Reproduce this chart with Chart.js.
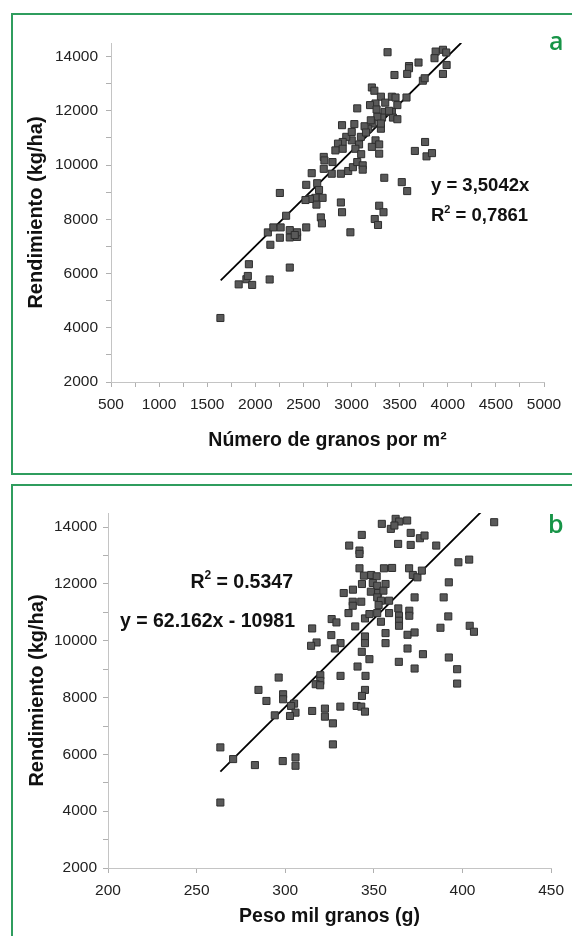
<!DOCTYPE html>
<html>
<head>
<meta charset="utf-8">
<script src="https://cdn.jsdelivr.net/npm/chart.js@4"></script>
<style>
  body { margin: 0; background: #fff; width: 572px; height: 936px; overflow: hidden; position: relative; }
  .box { position: absolute; border: 2px solid #2f9d5e; box-sizing: border-box; }
  canvas { position: absolute; left: 0; }
  .tag { position: absolute; color: #179447; font: 600 25px "Open Sans", sans-serif; }
</style>
</head>
<body>
<div class="box" style="left:11px; top:13px; width:570px; height:462px;"></div>
<div class="box" style="left:11px; top:484px; width:570px; height:460px;"></div>
<canvas id="chartA" width="572" height="460" style="top:14px"></canvas>
<canvas id="chartB" width="572" height="451" style="top:485px"></canvas>
<div class="tag" style="left:549px; top:23px;">a</div>
<div class="tag" style="left:548px; top:506px;">b</div>
<script>
// Panel a: número de granos por m2 vs rendimiento
var granosA = [1637, 1827, 1907, 1922, 1967, 1933, 2149, 2358, 2156, 2255, 2358, 2434, 2130, 2187, 2263,
  2358, 2434, 2410, 2320, 2255, 2529, 2681, 2692, 2988, 2889, 2901, 3287, 3332, 3241, 3275,
  2586, 2529, 2643, 2662, 2699, 2624, 2635, 2567, 2521, 3340, 3522, 3578, 3764, 3658, 3779,
  3836, 2711, 2718, 2802, 2711, 2794, 2889, 2965, 3014, 3059, 3116, 3116, 3249, 3287, 3287,
  3211, 3097, 3078, 3002, 2945, 2908, 2859, 2908, 2832, 3211, 3237, 3305, 3419, 3457, 3571,
  3249, 3192, 3476, 3419, 3343, 3059, 3430, 3476, 3317, 3268, 3218, 3305, 3173, 3135, 3029,
  2901, 3002, 3305, 3374, 3950, 3984, 3874, 3862, 3988, 3950, 3696, 3597, 3597, 3578, 3446,
  3741, 3760, 3040, 3150, 3350, 3100, 3200, 3390, 3260];
var rendA = [4360, 5600, 5790, 5910, 5580, 6343, 5780, 6220, 7060, 7320, 7330, 7350, 7516, 7700, 7700,
  7600, 7520, 7420, 8130, 8970, 7700, 8070, 7850, 7520, 8620, 8260, 8500, 8260, 8010, 7790,
  9700, 9270, 9330, 9080, 8790, 8790, 8540, 8750, 8710, 9530, 9370, 9040, 10850, 10520, 10320,
  10440, 10300, 10170, 10110, 9860, 9680, 9680, 9780, 9920, 10110, 9990, 9830, 10910, 10760, 10420,
  10670, 11040, 10760, 10910, 11040, 10850, 10790, 10600, 10540, 12860, 12740, 12520, 12520, 12490, 12490,
  12270, 12210, 12210, 11960, 11960, 12090, 11750, 11690, 11750, 11780, 11530, 11340, 11340, 11430, 11510,
  11470, 11220, 11530, 14160, 14250, 14150, 14185, 13940, 13690, 13360, 13780, 13650, 13570, 13360, 13320,
  13110, 13200, 10600, 11200, 12300, 10400, 11650, 12000, 12050];
var pendienteA = 3.5042;
var rangoTrendA = [1640, 4140];

// Panel b: peso mil granos vs rendimiento
var pesoB = [417.9, 354.5, 359.6, 362.3, 364.3, 368.8, 361.6, 343.2, 336.1, 341.9, 341.9, 363.7, 370.8, 370.8, 376.0,
  378.6, 385.2, 403.8, 397.7, 341.9, 344.4, 348.5, 351.6, 355.7, 360.3, 369.9, 372.0, 374.6, 377.1, 392.3,
  343.3, 349.4, 351.9, 356.6, 348.3, 352.4, 355.4, 338.2, 389.4, 373.0, 333.0, 338.1, 338.1, 342.9, 351.9,
  354.0, 358.6, 352.7, 351.9, 358.6, 363.8, 364.2, 364.2, 364.2, 370.0, 370.0, 335.7, 326.2, 328.9, 345.0,
  347.5, 354.0, 392.0, 387.6, 404.1, 406.5, 315.2, 339.5, 356.6, 369.0, 373.0, 326.0, 331.2, 328.0, 345.0,
  345.0, 356.6, 317.7, 314.6, 343.2, 369.0, 377.7, 392.3, 347.5, 364.1, 340.8, 373.0, 397.0, 397.0, 296.3,
  331.2, 345.3, 319.8, 319.8, 317.2, 319.7, 345.0, 343.3, 284.9, 289.4, 298.8, 298.8, 305.0, 303.3, 305.8,
  294.1, 302.7, 315.2, 322.4, 322.4, 326.9, 326.9, 331.1, 340.3, 342.9, 345.0, 263.4, 270.6, 282.9, 298.6,
  305.8, 305.8, 263.4];
var rendB = [14176, 14118, 13941, 14294, 14200, 14235, 14059, 13729, 13353, 13177, 13059, 13412, 13800, 13376, 13612,
  13706, 13353, 12859, 12765, 12553, 12294, 12318, 12271, 12553, 12565, 12553, 12318, 12235, 12471, 12059,
  12000, 12035, 11941, 12000, 11729, 11682, 11765, 11800, 11529, 11529, 11682, 11376, 11235, 11376, 11529,
  11412, 11412, 11259, 10976, 10976, 11141, 10882, 10706, 10529, 11059, 10882, 10976, 10765, 10647, 10788,
  10941, 10671, 10859, 10459, 10529, 10318, 10435, 10506, 10271, 10212, 10294, 10200, 9918, 9729, 10153,
  9918, 9918, 9941, 9824, 9612, 9729, 9529, 9412, 9353, 9259, 9094, 9024, 9000, 8494, 8706,
  8765, 8765, 8788, 8588, 8471, 8435, 8271, 8059, 8271, 7882, 8118, 7941, 7788, 7706, 7470,
  7376, 7353, 7529, 7612, 7329, 7094, 6353, 7682, 7706, 7682, 7506, 6247, 5835, 5624, 5765,
  5894, 5600, 4306];
var pendienteB = 62.162;
var interceptoB = -10981;

var fuente = '"Liberation Sans", Arial, sans-serif';

function puntos(xs, ys) {
    return xs.map(function (x, i) { return { x: x, y: ys[i] }; });
}

function lineaTendencia(xs, m, b) {
    return xs.map(function (x) { return { x: x, y: m * x + b }; });
}

// texto de la ecuación, con superíndice
var ecuaciones = {
    id: 'ecuaciones',
    afterDraw: function (chart, args, opts) {
        var ctx = chart.ctx;
        ctx.save();
        ctx.fillStyle = '#111';
        ctx.textBaseline = 'alphabetic';
        opts.lineas.forEach(function (l) {
            var partes = l.partes;
            var big = 'bold ' + l.size + 'px ' + fuente, small = 'bold ' + Math.round(l.size * 0.62) + 'px ' + fuente;
            var ancho = 0;
            partes.forEach(function (p) { ctx.font = p.sup ? small : big; ancho += ctx.measureText(p.t).width; });
            var x = l.align === 'right' ? l.x - ancho : l.x;
            partes.forEach(function (p) {
                ctx.font = p.sup ? small : big;
                ctx.textAlign = 'left';
                ctx.fillText(p.t, x, p.sup ? l.y - l.size * 0.45 : l.y);
                x += ctx.measureText(p.t).width;
            });
        });
        ctx.restore();
    }
};

function opciones(cfg) {
    return {
        responsive: false,
        animation: false,
        devicePixelRatio: 1,
        layout: { padding: cfg.padding },
        plugins: {
            legend: { display: false },
            tooltip: { enabled: false },
            ecuaciones: { lineas: cfg.lineas }
        },
        scales: {
            x: {
                type: 'linear',
                min: cfg.xmin, max: cfg.xmax,
                afterFit: function (s) { s.height = cfg.xAlto; },
                afterBuildTicks: function (s) {
                    s.ticks = [];
                    for (var v = cfg.xmin; v <= cfg.xmax; v += cfg.xPaso) s.ticks.push({ value: v });
                },
                border: { color: '#c4c4c4', width: 1 },
                grid: { drawOnChartArea: false, color: '#b0b0b0', tickLength: 5 },
                ticks: {
                    autoSkip: false, maxRotation: 0, padding: 8, color: '#222',
                    font: { family: fuente, size: 15.5 },
                    callback: function (v) { return v % cfg.xEtiqueta === 0 ? v : ''; }
                },
                title: {
                    display: true, text: cfg.xTitulo, color: '#111',
                    font: { family: fuente, size: 19.5, weight: 'bold' },
                    padding: { top: 0, bottom: cfg.xTituloPad }
                }
            },
            y: {
                type: 'linear',
                min: 2000, max: 14500,
                afterFit: function (s) { s.width = cfg.yAncho; },
                afterBuildTicks: function (s) {
                    s.ticks = [];
                    for (var v = 2000; v <= 14000; v += 1000) s.ticks.push({ value: v });
                },
                border: { color: '#c4c4c4', width: 1 },
                grid: { drawOnChartArea: false, color: '#b0b0b0', tickLength: 5 },
                ticks: {
                    autoSkip: false, padding: cfg.yPad, color: '#222',
                    font: { family: fuente, size: 15.5 },
                    callback: function (v) { return v % 2000 === 0 ? v : ''; }
                },
                title: {
                    display: true, text: 'Rendimiento (kg/ha)', color: '#111',
                    font: { family: fuente, size: 20, weight: 'bold' },
                    padding: { top: cfg.yTituloPad, bottom: 0 }
                }
            }
        }
    };
}

function datasets(pts, trend) {
    return [
        {
            type: 'scatter', data: pts,
            pointStyle: 'rect', pointRadius: 5,
            backgroundColor: '#595959', borderColor: '#2e2e2e', borderWidth: 1
        },
        {
            type: 'line', data: trend,
            borderColor: '#000', borderWidth: 1.8,
            pointRadius: 0, fill: false
        }
    ];
}

new Chart(document.getElementById('chartA'), {
    type: 'scatter',
    data: { datasets: datasets(puntos(granosA, rendA), lineaTendencia(rangoTrendA, pendienteA, 0)) },
    options: opciones({
        padding: { top: 29, right: 28, left: 0, bottom: 0 },
        xmin: 500, xmax: 5000, xPaso: 250, xEtiqueta: 500, xAlto: 92,
        xTitulo: 'Número de granos por m²', xTituloPad: 21.5,
        yAncho: 111, yPad: 8, yTituloPad: 24.5,
        lineas: [
            { x: 431, y: 177, size: 18.5, partes: [{ t: 'y = 3,5042x' }] },
            { x: 431, y: 207, size: 18.5, partes: [{ t: 'R' }, { t: '2', sup: true }, { t: ' = 0,7861' }] }
        ]
    }),
    plugins: [ecuaciones]
});

var rangoB = [Math.min.apply(null, pesoB), Math.max.apply(null, pesoB)];

new Chart(document.getElementById('chartB'), {
    type: 'scatter',
    data: { datasets: datasets(puntos(pesoB, rendB), lineaTendencia(rangoB, pendienteB, interceptoB)) },
    options: opciones({
        padding: { top: 28, right: 18, left: 0, bottom: 0 },
        xmin: 200, xmax: 450, xPaso: 50, xEtiqueta: 50, xAlto: 68,
        xTitulo: 'Peso mil granos (g)', xTituloPad: 7.5,
        yAncho: 108, yPad: 6, yTituloPad: 25.5,
        lineas: [
            { x: 293, y: 103, size: 19.5, align: 'right', partes: [{ t: 'R' }, { t: '2', sup: true }, { t: ' = 0.5347' }] },
            { x: 295, y: 142, size: 19.5, align: 'right', partes: [{ t: 'y = 62.162x - 10981' }] }
        ]
    }),
    plugins: [ecuaciones]
});
</script>
</body>
</html>
